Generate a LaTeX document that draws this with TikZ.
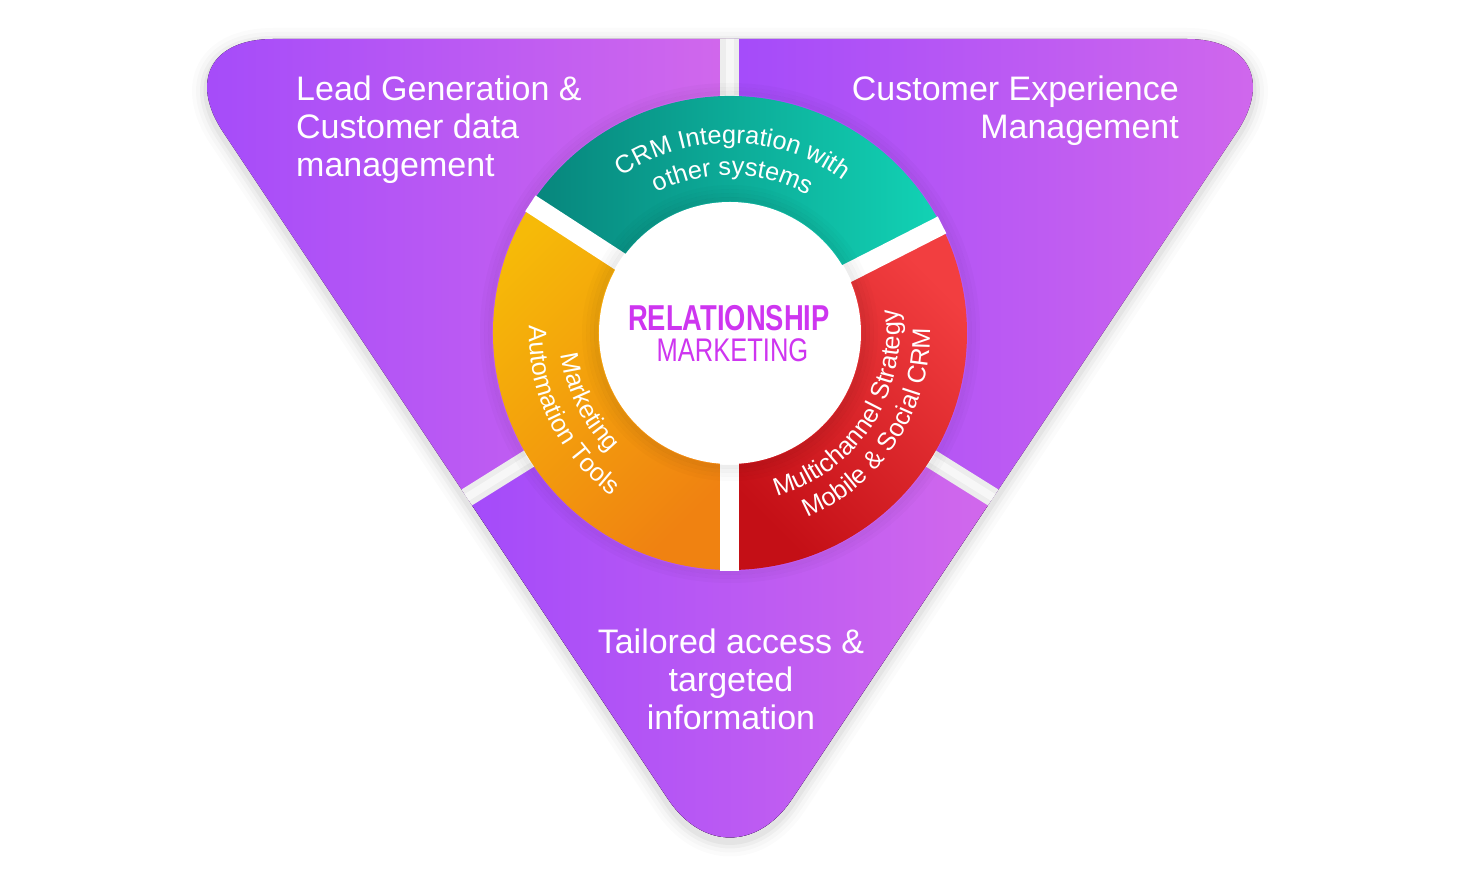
\documentclass[tikz,border=0pt]{standalone}
\usepackage{fontspec}
\setmainfont{Liberation Sans}
\usetikzlibrary{positioning}
\usetikzlibrary{decorations.text}
\definecolor{violetL}{HTML}{A44BFA}
\definecolor{violetR}{HTML}{D168EC}
\definecolor{tealA}{HTML}{07857C}
\definecolor{tealB}{HTML}{12D3B5}
\definecolor{orangeA}{HTML}{F6BA08}
\definecolor{orangeB}{HTML}{F08211}
\definecolor{redA}{HTML}{C40F16}
\definecolor{redB}{HTML}{F23E40}
\definecolor{magent}{HTML}{CE35F0}
\newcommand{\bigtxt}{\fontsize{34}{37.8}\selectfont}
\newcommand{\ringtxt}{\fontsize{25.3}{30}\selectfont\color{white}}

\begin{document}
\begin{tikzpicture}[x=1pt, y=1pt,
    piece/.style = {left color=violetL, right color=violetR},
    trigap/.style = {line width=19pt, draw=black!7},
    ringgap/.style = {line width=19pt, draw=white},
    tritext/.style = {text=white, font=\bigtxt, inner sep=0pt},
    arctext/.style = {decorate, decoration={text along path, text align=center,
      text={|\ringtxt|#1}}}]
  \useasboundingbox (-730,-541) rectangle (730,333);
  \fill[white] (-730,-541) rectangle (730,333);
  \foreach \w/\o in {30pt/0.015,22pt/0.02,14pt/0.03,7pt/0.04}
    \draw[black, opacity=\o, line width=\w, rounded corners=112pt]
      (0,290) -- (569,290) -- (0,-563) -- (-569,290) -- cycle;
  \begin{scope}
    \clip[rounded corners=112pt] (0,294) -- (569,294) -- (0,-559) -- (-569,294) -- cycle;
    \fill[piece] (-540,-600) rectangle (0,300);
    \fill[piece] (0,-600) rectangle (540,300);
    \begin{scope}
      \clip (0,0) -- (212:900) -- (270:900) -- (328:900) -- cycle;
      \fill[piece] (-258,-600) rectangle (258,0);
    \end{scope}
    \foreach \a in {90,212,328} {
      \draw[trigap] (0,0) -- (\a:700);
      \draw[line width=8pt, draw=black!3] (0,0) -- (\a:700);
    }
  \end{scope}
  \foreach \k/\o in {4/0.05,8/0.035,12/0.02}
    \draw[black, opacity=\o, line width=4pt] (0,0) circle[radius=236+\k];
  \shade[left color=tealA, right color=tealB]
    (0,0) -- (27:237) arc[start angle=27, end angle=147, radius=237] -- cycle;
  \shade[top color=orangeA, bottom color=orangeB, shading angle=45]
    (0,0) -- (147:237) arc[start angle=147, end angle=270, radius=237] -- cycle;
  \shade[top color=redB, bottom color=redA, shading angle=-45]
    (0,0) -- (270:237) arc[start angle=270, end angle=387, radius=237] -- cycle;
  \foreach \a in {27,147,270}
    \draw[ringgap] (\a:125) -- (\a:238);
  \foreach \k/\o in {3/0.07,7/0.05,11/0.03,15/0.015}
    \draw[black, opacity=\o, line width=4pt] (0,0) circle[radius=131+\k];
  \fill[white] (0,0) circle[radius=131];
  \node[text=magent, font={\fontsize{36}{36}\selectfont\bfseries}, anchor=base, inner sep=0pt]
    (relat) at (-1,2.3) {\scalebox{0.76}[1]{RELATIONSHIP}};
  \node[text=magent, font={\fontsize{32.7}{33}\selectfont}, anchor=base, inner sep=0pt]
    (mkt) at (2.5,-28.7) {\scalebox{0.78}[1]{MARKETING}};
  \path[arctext={CRM Integration with}]
    (179:190) arc[start angle=179, end angle=-1, radius=190];
  \path[arctext={other systems}]
    (179:158) arc[start angle=179, end angle=-1, radius=158];
  \path[arctext={Marketing}]
    (116:170) arc[start angle=116, end angle=296, radius=170];
  \path[arctext={Automation Tools}]
    (116:201) arc[start angle=116, end angle=296, radius=201];
  \path[arctext={Multichannel Strategy}]
    (-123:170) arc[start angle=-123, end angle=57, radius=170];
  \path[arctext={Mobile {\&} Social CRM}]
    (-123:200) arc[start angle=-123, end angle=57, radius=200];
  \node[tritext, align=left, anchor=north west] (lead) at (-434,257)
    {Lead Generation \&\\Customer data\\management};
  \node[tritext, align=right, anchor=north east] (cxm) at (449,257)
    {Customer Experience\\Management};
  \node[tritext, align=center, anchor=north] (tail) at (1,-296)
    {Tailored access \&\\targeted\\information};
\end{tikzpicture}
\end{document}
